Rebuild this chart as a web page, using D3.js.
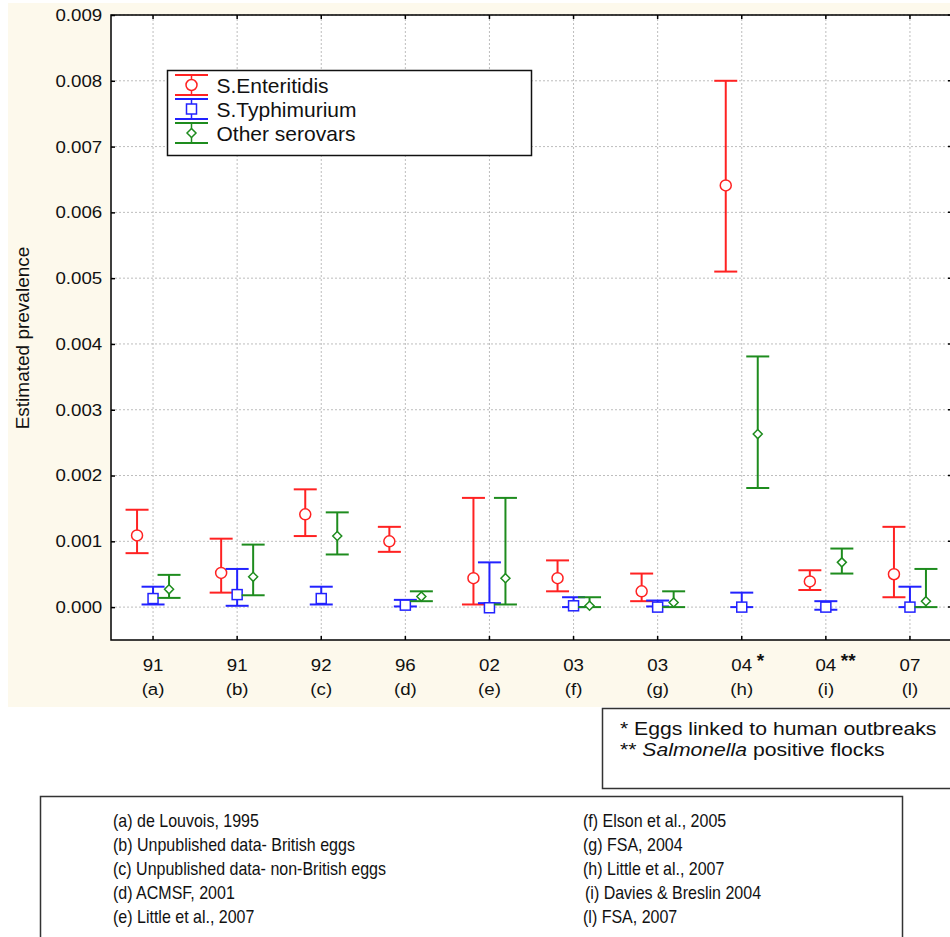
<!DOCTYPE html>
<html>
<head>
<meta charset="utf-8">
<script src="https://cdn.jsdelivr.net/npm/d3@7/dist/d3.min.js"></script>
<style>
  html, body { margin: 0; padding: 0; background: #fff; }
  svg { display: block; font-family: 'Liberation Sans', Arial, sans-serif; }
</style>
</head>
<body>
<script>
// Estimated prevalence of Salmonella in eggs, per survey, by serovar group.
// Values (point estimate + lower/upper interval).

const years   = ['91', '91', '92', '96', '02', '03', '03', '04', '04', '07'];
const letters = ['(a)', '(b)', '(c)', '(d)', '(e)', '(f)', '(g)', '(h)', '(i)', '(l)'];
const marks   = ['', '', '', '', '', '', '', '*', '**', ''];

const seMean = [0.00109, 0.00052, 0.00141, 0.00100, 0.00044, 0.00044, 0.00024, 0.00641, 0.00039, 0.00050];
const seLow  = [0.00082, 0.00022, 0.00108, 0.00084, 0.00004, 0.00024, 0.00009, 0.00510, 0.00026, 0.00015];
const seHigh = [0.00148, 0.00104, 0.00179, 0.00122, 0.00166, 0.00071, 0.00051, 0.00800, 0.00056, 0.00122];

const stMean = [0.00013, 0.00019, 0.00013, 0.00003, -0.00001, 0.00002, 0.00000, 0.00000, 0.00000, 0.00000];
const stLow  = [0.00004, 0.00002, 0.00004, 0.00001, 0.00006, 0.00000, 0.00001, 0.00000, -0.00004, 0.00000];
const stHigh = [0.00031, 0.00058, 0.00031, 0.00011, 0.00068, 0.00015, 0.00010, 0.00022, 0.00009, 0.00031];

const otMean = [0.00027, 0.00046, 0.00108, 0.00016, 0.00044, 0.00002, 0.00007, 0.00263, 0.00068, 0.00009];
const otLow  = [0.00014, 0.00018, 0.00080, 0.00009, 0.00004, 0.00000, 0.00000, 0.00181, 0.00051, 0.00000];
const otHigh = [0.00049, 0.00095, 0.00144, 0.00024, 0.00166, 0.00015, 0.00024, 0.00381, 0.00089, 0.00058];

const yTicks = [0, 0.001, 0.002, 0.003, 0.004, 0.005, 0.006, 0.007, 0.008, 0.009];

const refsLeft  = ['(a) de Louvois, 1995', '(b) Unpublished data- British eggs',
                   '(c) Unpublished data- non-British eggs', '(d) ACMSF, 2001', '(e) Little et al., 2007'];
const refsRight = ['(f) Elson et al., 2005', '(g) FSA, 2004', '(h) Little et al., 2007',
                   '(i) Davies & Breslin 2004', '(l) FSA, 2007'];

const series = [
    { name: 'S.Enteritidis',  color: '#ff2222', shape: 'circle',  dx: -16, mean: seMean, low: seLow, high: seHigh },
    { name: 'S.Typhimurium',  color: '#2222ff', shape: 'square',  dx: 0,   mean: stMean, low: stLow, high: stHigh },
    { name: 'Other serovars', color: '#1e8c1e', shape: 'diamond', dx: 16,  mean: otMean, low: otLow, high: otHigh },
];

const W = 950, H = 937;
const PLOT = { left: 111, top: 15, right: 952, bottom: 640 };
const CAP = 11.5;
const GRID = '#bdbdbd';

const svg = d3.select('body').append('svg').attr('width', W).attr('height', H);

// cream panel behind the chart
svg.append('rect').attr('x', 8).attr('y', 3).attr('width', W - 8).attr('height', 704).attr('fill', '#fdf9ec');

const x = d3.scaleLinear().domain([0.5, years.length + 0.5]).range([PLOT.left, PLOT.right]);
const y = d3.scaleLinear().domain([-0.0005, 0.009]).range([PLOT.bottom, PLOT.top]);
const idx = d3.range(1, years.length + 1);

svg.append('rect')
    .attr('x', PLOT.left).attr('y', PLOT.top)
    .attr('width', PLOT.right - PLOT.left).attr('height', PLOT.bottom - PLOT.top)
    .attr('fill', '#fff');

// grid
const gGrid = svg.append('g').attr('stroke', GRID).attr('stroke-dasharray', '2,2').attr('stroke-width', 1);
gGrid.selectAll('line.h').data(yTicks).join('line').attr('class', 'h')
    .attr('x1', PLOT.left).attr('x2', PLOT.right)
    .attr('y1', (d) => y(d)).attr('y2', (d) => y(d));
gGrid.selectAll('line.v').data(idx).join('line').attr('class', 'v')
    .attr('x1', (d) => x(d)).attr('x2', (d) => x(d))
    .attr('y1', PLOT.top).attr('y2', PLOT.bottom);

// inward ticks on the other three sides
const gTicks = svg.append('g').attr('stroke', '#000').attr('stroke-width', 1.5);
gTicks.selectAll('line.r').data(yTicks).join('line').attr('class', 'r')
    .attr('x1', PLOT.right).attr('x2', PLOT.right - 4)
    .attr('y1', (d) => y(d)).attr('y2', (d) => y(d));
gTicks.selectAll('line.t').data(idx).join('line').attr('class', 't')
    .attr('x1', (d) => x(d)).attr('x2', (d) => x(d))
    .attr('y1', PLOT.top).attr('y2', PLOT.top + 4);
gTicks.selectAll('line.b').data(idx).join('line').attr('class', 'b')
    .attr('x1', (d) => x(d)).attr('x2', (d) => x(d))
    .attr('y1', PLOT.bottom).attr('y2', PLOT.bottom - 4);

// left axis
const yAxis = d3.axisLeft(y).tickValues(yTicks).tickSizeInner(-4).tickSizeOuter(0)
    .tickPadding(8).tickFormat(d3.format('.3f'));
const gY = svg.append('g').attr('transform', `translate(${PLOT.left},0)`).call(yAxis);
gY.select('.domain').remove();
gY.selectAll('.tick line').attr('stroke', '#000').attr('stroke-width', 1.5);
gY.selectAll('.tick text')
    .attr('font-size', 17).attr('font-family', null).attr('fill', '#111')
    .attr('transform', 'scale(1.1,1)');

// frame
svg.append('rect')
    .attr('x', PLOT.left).attr('y', PLOT.top)
    .attr('width', PLOT.right - PLOT.left).attr('height', PLOT.bottom - PLOT.top)
    .attr('fill', 'none').attr('stroke', '#000').attr('stroke-width', 1.5);

// x labels: year, then study letter
const gX = svg.append('g').attr('font-size', 17).attr('fill', '#111').attr('text-anchor', 'middle');
gX.selectAll('text.yr').data(idx).join('text').attr('class', 'yr')
    .attr('transform', (d) => `translate(${x(d)},671) scale(1.1,1)`)
    .text((d) => years[d - 1]);
gX.selectAll('text.lt').data(idx).join('text').attr('class', 'lt')
    .attr('transform', (d) => `translate(${x(d)},694.5) scale(1.1,1)`)
    .text((d) => letters[d - 1]);
gX.selectAll('text.mk').data(idx.filter((d) => marks[d - 1])).join('text').attr('class', 'mk')
    .attr('font-weight', 'bold').attr('font-size', 19).attr('text-anchor', 'start')
    .attr('x', (d) => x(d) + 15).attr('y', 667)
    .text((d) => marks[d - 1]);

// y title
svg.append('text')
    .attr('transform', 'translate(29,338) rotate(-90)')
    .attr('text-anchor', 'middle').attr('font-size', 19).attr('fill', '#111')
    .text('Estimated prevalence');

// markers
function marker(sel, shape, color) {
    if (shape === 'circle') {
        sel.append('circle').attr('r', 5.5);
    } else if (shape === 'square') {
        sel.append('rect').attr('x', -5).attr('y', -5).attr('width', 10).attr('height', 10);
    } else {
        sel.append('path').attr('d', 'M0,-4.5L4.5,0L0,4.5L-4.5,0Z');
    }
    sel.selectAll('*').attr('fill', '#fff').attr('stroke', color).attr('stroke-width', 1.5);
}

// error bars
for (const s of series) {
    const g = svg.append('g').attr('stroke', s.color).attr('stroke-width', 2);
    const cx = (i) => x(i + 1) + s.dx;
    const rows = d3.range(years.length);
    g.selectAll('line.stem').data(rows).join('line').attr('class', 'stem')
        .attr('x1', cx).attr('x2', cx)
        .attr('y1', (i) => y(s.low[i])).attr('y2', (i) => y(s.high[i]));
    g.selectAll('line.lo').data(rows).join('line').attr('class', 'lo')
        .attr('x1', (i) => cx(i) - CAP).attr('x2', (i) => cx(i) + CAP)
        .attr('y1', (i) => y(s.low[i])).attr('y2', (i) => y(s.low[i]));
    g.selectAll('line.hi').data(rows).join('line').attr('class', 'hi')
        .attr('x1', (i) => cx(i) - CAP).attr('x2', (i) => cx(i) + CAP)
        .attr('y1', (i) => y(s.high[i])).attr('y2', (i) => y(s.high[i]));
    g.selectAll('g.pt').data(rows).join('g').attr('class', 'pt')
        .attr('transform', (i) => `translate(${cx(i)},${y(s.mean[i])})`)
        .each(function () { marker(d3.select(this), s.shape, s.color); });
}

// legend
const gLeg = svg.append('g');
gLeg.append('rect').attr('x', 167.5).attr('y', 70.5).attr('width', 364).attr('height', 85)
    .attr('fill', '#fff').attr('stroke', '#111').attr('stroke-width', 1.5);
series.forEach((s, k) => {
    const cy = 85 + k * 24;
    const row = gLeg.append('g').attr('transform', `translate(191.5,${cy})`);
    row.append('line').attr('x1', 0).attr('x2', 0).attr('y1', -10).attr('y2', 10)
        .attr('stroke', s.color).attr('stroke-width', 1.5);
    [-10, 10].forEach((dy) => row.append('line')
        .attr('x1', -16.5).attr('x2', 16.5).attr('y1', dy).attr('y2', dy)
        .attr('stroke', s.color).attr('stroke-width', 2));
    marker(row.append('g'), s.shape, s.color);
    gLeg.append('text').attr('x', 216.5).attr('y', cy + 7.5)
        .attr('font-size', 21).attr('fill', '#111').text(s.name);
});

// footnote box (asterisks)
const gNote = svg.append('g');
gNote.append('rect').attr('x', 602.5).attr('y', 708.5).attr('width', 400).attr('height', 80)
    .attr('fill', '#fff').attr('stroke', '#333').attr('stroke-width', 1.5);
gNote.append('text').attr('transform', 'translate(620,735) scale(1.21,1)')
    .attr('font-size', 17.5).attr('fill', '#111').text('* Eggs linked to human outbreaks');
const n2 = gNote.append('text').attr('transform', 'translate(620,756) scale(1.21,1)')
    .attr('font-size', 17.5).attr('fill', '#111');
n2.append('tspan').text('** ');
n2.append('tspan').attr('font-style', 'italic').text('Salmonella');
n2.append('tspan').text(' positive flocks');

// references box
const gRef = svg.append('g');
gRef.append('rect').attr('x', 40.5).attr('y', 796.5).attr('width', 862).attr('height', 160)
    .attr('fill', '#fff').attr('stroke', '#333').attr('stroke-width', 1.5);
gRef.selectAll('text.l').data(refsLeft).join('text').attr('class', 'l')
    .attr('transform', (d, i) => `translate(113,${826.5 + i * 24.2}) scale(0.89,1)`)
    .attr('font-size', 18).attr('fill', '#111').text((d) => d);
gRef.selectAll('text.r').data(refsRight).join('text').attr('class', 'r')
    .attr('transform', (d, i) => `translate(${i === 3 ? 585 : 583},${826.5 + i * 24.2}) scale(0.89,1)`)
    .attr('font-size', 18).attr('fill', '#111').text((d) => d);
</script>
</body>
</html>
